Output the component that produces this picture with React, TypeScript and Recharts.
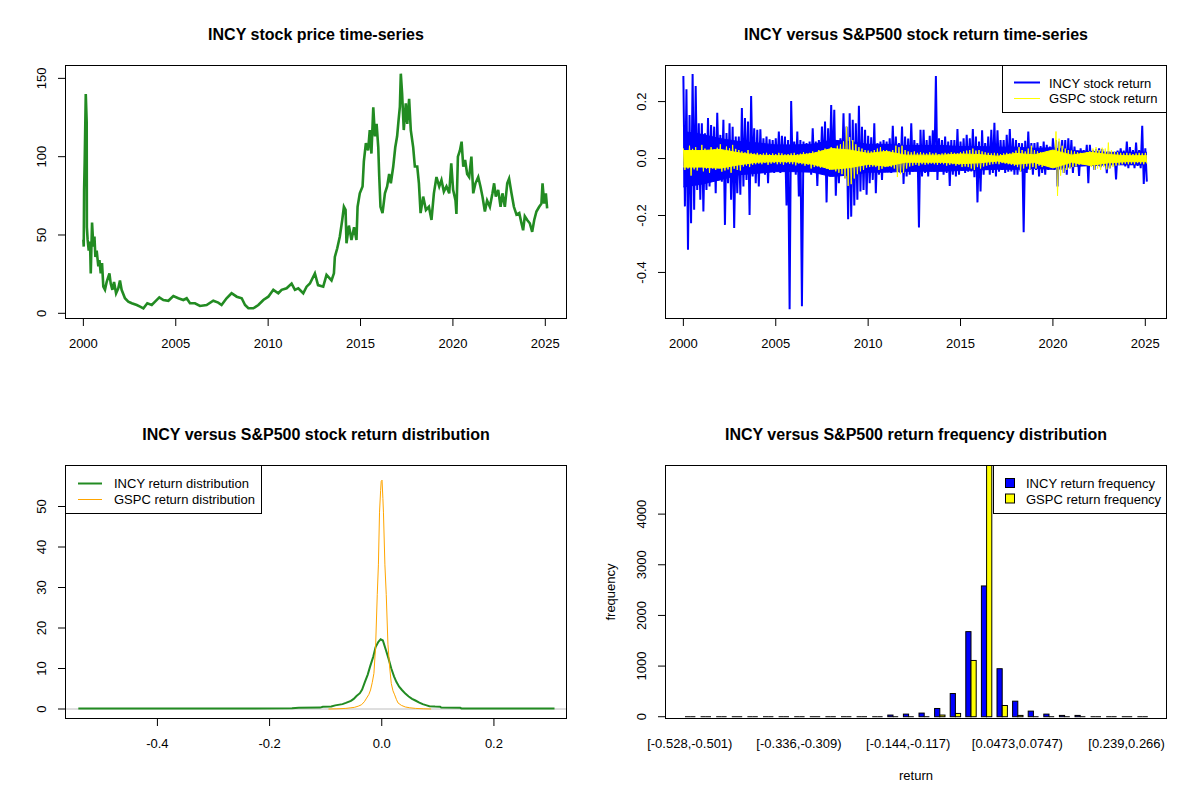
import React from 'react';
import { LineChart, AreaChart, Line, Area, XAxis, YAxis, BarChart, Bar, ReferenceLine } from 'recharts';

const FONT = '"Liberation Sans", Arial, Helvetica, sans-serif';

// ---------- Panel 1: INCY price ----------
const priceYears = [2000.00,2000.02,2000.04,2000.07,2000.13,2000.18,2000.19,2000.23,2000.29,2000.36,
2000.40,2000.47,2000.54,2000.60,2000.65,2000.72,2000.81,2000.87,2000.94,2001.01,
2001.08,2001.17,2001.26,2001.41,2001.48,2001.57,2001.66,2001.77,2001.89,2001.98,
2002.07,2002.25,2002.43,2002.62,2002.89,2003.07,2003.25,2003.46,2003.70,2003.88,
2004.11,2004.33,2004.60,2004.87,2005.14,2005.41,2005.59,2005.77,2006.04,2006.31,
2006.67,2007.03,2007.30,2007.48,2007.75,2008.02,2008.30,2008.57,2008.75,2008.93,
2009.20,2009.47,2009.74,2010.01,2010.28,2010.55,2010.73,2011.00,2011.27,2011.45,
2011.63,2011.90,2012.08,2012.26,2012.53,2012.70,2012.98,2013.16,2013.43,2013.56,
2013.61,2013.74,2013.88,2014.01,2014.10,2014.19,2014.24,2014.37,2014.51,2014.65,
2014.78,2014.84,2014.96,2015.11,2015.18,2015.29,2015.41,2015.50,2015.59,2015.69,
2015.78,2015.87,2015.96,2016.01,2016.08,2016.19,2016.32,2016.44,2016.55,2016.64,
2016.77,2016.88,2016.98,2017.06,2017.13,2017.18,2017.25,2017.34,2017.45,2017.53,
2017.63,2017.72,2017.85,2017.94,2018.07,2018.16,2018.25,2018.39,2018.54,2018.70,
2018.84,2018.97,2019.11,2019.26,2019.38,2019.51,2019.65,2019.80,2019.91,2020.01,
2020.14,2020.19,2020.27,2020.38,2020.47,2020.56,2020.66,2020.77,2020.88,2021.00,
2021.10,2021.22,2021.37,2021.49,2021.60,2021.73,2021.85,2022.00,2022.14,2022.23,
2022.32,2022.45,2022.58,2022.68,2022.81,2022.94,2023.04,2023.17,2023.30,2023.44,
2023.59,2023.71,2023.80,2023.89,2024.02,2024.16,2024.29,2024.40,2024.52,2024.67,
2024.79,2024.85,2024.94,2025.03,2025.10];
const prices = [47,42.6,78.8,95.8,140,122,55,47,40,45.8,
25.5,58,42.6,49,36,40,30,34,25.5,32,
17,15,20,25.5,19,15,20,12.8,16,21,
15,9.6,7.5,6.4,5.3,4.3,3.2,6.4,5.3,7.5,
10.2,8.5,8,11,9.6,8.5,9.6,6.4,6.4,4.7,
5.3,8,6.8,5.3,9.6,12.8,10.6,9.6,5.3,3.2,
3.2,5.3,8.5,10.6,15,12.8,15,16,19,15,
16,12.8,17,19,25.5,18,17,24.5,21,25.5,
36,41.5,49,59.6,68,66,44.7,56,46.8,55,
46.8,68,76.6,81,97,108.6,104,117,102,131.5,
113,121,106,88,68,64,76.6,81,89,83,
93.7,106,113,123.5,132,153,140.5,117,134,121,
137,117,106,93.7,93.7,83,64,74.5,66,68,
59.6,76.6,87,81,85,77.7,81,76.6,95.8,78.8,
72,63.4,100,104,109.6,93.7,98,89,87,100,
76.6,83,87,81,74.5,65,72,68,76.6,83,
74.5,78.8,68,76.6,68,83,86,76.6,68,63,
64,57.5,53,62,59.6,57.5,52,59.6,65,68,
70,83,70,76.6,67];
const yearTicks = [2000, 2005, 2010, 2015, 2020, 2025];
const priceTicks = [0, 50, 100, 150];

// ---------- Panel 2: returns (per 2-month window: upper and lower extremes) ----------
const RET_START = 2000;
const RET_STEP = 1 / 6;
const incyHigh = [.290,.243,.153,.297,.255,.124,.124,.089,.142,.118,
.112,.161,.083,.136,.090,.124,.112,.077,.077,.177,
.142,.130,.220,.106,.101,.103,.071,.077,.068,.065,
.071,.095,.080,.077,.065,.202,.060,.095,.065,.060,
.054,.060,.106,.060,.065,.112,.130,.106,.188,.171,
.054,.071,.159,.112,.159,.136,.124,.185,.112,.101,
.080,.075,.124,.054,.060,.065,.060,.071,.115,.077,
.054,.112,.077,.070,.124,.065,.054,.101,
.101,.065,.080,.099,.290,.071,.065,.077,.060,.065,
.065,.104,.060,.071,.083,.071,.104,.077,.060,.099,
.054,.077,.101,.126,.099,.065,.065,.083,.104,.071,
.065,.054,.054,.062,.095,.054,.054,.057,.044,.060,
.048,.042,.071,.065,.060,.065,.065,.071,.065,.042,
.028,.036,.030,.048,.048,.030,.033,.036,.033,.020,
.025,.020,.021,.028,.036,.028,.060,.040,.030,.056,
.030,.115,.036];
const incyLow = [-.168,-.320,-.227,-.180,-.110,-.145,-.186,-.110,-.098,-.075,
-.122,-.057,-.081,-.233,-.087,-.145,-.244,-.122,-.127,-.098,
-.075,-.198,-.063,-.087,-.098,-.051,-.057,-.087,-.045,-.051,
-.040,-.051,-.040,-.165,-.529,-.040,-.057,-.133,-.519,-.040,
-.045,-.057,-.040,-.096,-.051,-.046,-.154,-.063,-.057,-.131,
-.087,-.051,-.069,-.213,-.204,-.165,-.145,-.116,-.110,-.127,
-.087,-.075,-.122,-.057,-.075,-.040,-.046,-.051,-.040,-.046,
-.051,-.089,-.063,-.057,-.046,-.040,-.242,-.063,
-.051,-.063,-.045,-.046,-.075,-.040,-.057,-.051,-.096,-.057,
-.063,-.057,-.040,-.051,-.046,-.045,-.066,-.154,-.116,-.057,
-.040,-.057,-.051,-.063,-.046,-.040,-.051,-.046,-.045,-.057,
-.057,-.045,-.259,-.051,-.040,-.057,-.040,-.063,-.051,-.057,
-.040,-.034,-.040,-.098,-.040,-.051,-.057,-.034,-.051,-.028,
-.061,-.022,-.016,-.087,-.026,-.040,-.026,-.030,-.022,-.051,
-.034,-.016,-.073,-.019,-.019,-.028,-.034,-.022,-.034,-.026,
-.034,-.089,-.081];
const gspcHigh = [.036,.030,.045,.034,.040,.028,.048,.035,.030,.040,.032,.038,.050,.030,.042,.036,.048,.034,.030,
.025,.022,.030,.020,.018,.020,.016,.018,.020,.015,.018,.016,.020,.018,.015,.016,.018,.020,.015,.017,.022,.018,.020,.025,.022,.030,.028,
.035,.030,.040,.035,.045,.050,.060,.112,.075,.065,.050,.040,
.035,.030,.028,.025,.030,.035,.040,.030,.030,.025,.030,.045,.040,.045,.030,.025,.022,.025,.020,.022,
.020,.018,.022,.018,.020,.016,.018,.020,.018,.022,.020,.018,.022,.025,.028,.030,
.035,.028,.030,.025,.022,.020,.018,.020,.018,.016,.018,.020,.018,.022,.028,.040,.030,.025,.035,.045,.030,.025,.022,.020,.025,.020,.028,
.095,.070,.045,.035,.030,.028,.025,.022,.020,.018,.022,.025,.035,.040,.030,.038,.035,.056,.030,.025,.022,.020,.018,.020,.018,.016,.018,.020,.018,.020];
const gspcLow = [-.040,-.035,-.060,-.038,-.042,-.030,-.045,-.036,-.050,-.035,-.040,-.030,-.046,-.042,-.038,-.050,-.036,-.040,-.042,
-.028,-.025,-.030,-.022,-.020,-.018,-.020,-.016,-.022,-.018,-.016,-.020,-.018,-.022,-.016,-.018,-.020,-.024,-.018,-.020,-.025,-.022,-.035,-.030,-.028,-.032,-.030,
-.035,-.040,-.035,-.045,-.050,-.055,-.070,-.096,-.090,-.070,-.055,-.045,
-.040,-.032,-.030,-.028,-.030,-.040,-.036,-.030,-.028,-.030,-.035,-.065,-.055,-.050,-.035,-.028,-.025,-.022,-.025,-.020,
-.022,-.020,-.018,-.020,-.022,-.018,-.020,-.025,-.022,-.020,-.025,-.022,-.030,-.028,-.030,-.035,
-.040,-.030,-.035,-.028,-.025,-.022,-.020,-.018,-.020,-.016,-.018,-.020,-.022,-.025,-.030,-.045,-.035,-.028,-.040,-.030,-.035,-.025,-.030,-.022,-.025,-.028,-.030,
-.131,-.060,-.050,-.040,-.035,-.030,-.028,-.022,-.020,-.018,-.022,-.030,-.040,-.035,-.040,-.030,-.038,-.035,-.030,-.025,-.022,-.020,-.018,-.020,-.018,-.020,-.016,-.018,-.020,-.018];
// edges of the solid (dense) core band of daily returns, by year
const bandYears = [2000,2001,2002,2003,2004,2005,2006,2007,2008,2009,2010,2011,2012,2013,2014,2015,2016,2017,2018,2019,2020,2021,2022,2023,2024,2025.08];
const incyBandHi = [0.095,0.085,0.07,0.06,0.055,0.048,0.048,0.05,0.065,0.06,0.05,0.05,0.046,0.046,0.046,0.042,0.042,0.04,0.04,0.036,0.038,0.028,0.025,0.022,0.022,0.022];
const incyBandLo = [-0.10,-0.09,-0.075,-0.057,-0.052,-0.046,-0.046,-0.048,-0.063,-0.058,-0.048,-0.048,-0.045,-0.045,-0.045,-0.042,-0.04,-0.038,-0.038,-0.035,-0.038,-0.028,-0.025,-0.022,-0.022,-0.022];
const gspcBandHi = [0.028,0.028,0.032,0.02,0.012,0.01,0.01,0.018,0.035,0.03,0.018,0.025,0.012,0.012,0.012,0.016,0.014,0.008,0.018,0.013,0.03,0.012,0.022,0.014,0.01,0.01];
const gspcBandLo = [-0.03,-0.03,-0.034,-0.022,-0.013,-0.011,-0.011,-0.02,-0.038,-0.032,-0.02,-0.027,-0.013,-0.013,-0.013,-0.018,-0.015,-0.009,-0.02,-0.014,-0.033,-0.013,-0.024,-0.015,-0.011,-0.011];
const retTicks = [-0.4, -0.2, 0, 0.2];

// ---------- Panel 3: densities ----------
const incyDensX = [-0.541,-0.40,-0.25,-0.16,-0.148,-0.11,-0.105,-0.09,-0.083,-0.07,-0.064,-0.055,-0.05,-0.045,-0.039,-0.035,-0.03,-0.025,-0.021,-0.015,-0.011,-0.006,-0.002,0.002,0.0075,0.012,0.017,0.022,0.026,0.031,0.036,0.042,0.048,0.054,0.06,0.067,0.073,0.08,0.085,0.095,0.104,0.106,0.14,0.142,0.2,0.308];
const incyDensY = [0.15,0.15,0.15,0.16,0.3,0.35,0.55,0.6,0.9,1.2,1.5,2.0,2.5,3.2,3.9,4.8,6.7,8.5,10.4,13.0,15.3,16.6,17.2,16.9,14.5,12.5,10.0,8.0,6.7,5.5,4.7,3.8,3.1,2.5,2.1,1.6,1.2,0.9,0.7,0.6,0.55,0.35,0.3,0.15,0.15,0.15];
const gspcDensX = [-0.095,-0.08,-0.064,-0.055,-0.049,-0.042,-0.036,-0.031,-0.027,-0.023,-0.02,-0.017,-0.014,-0.011,-0.008,-0.006,-0.004,-0.002,-0.001,0.0005,0.002,0.003,0.0056,0.008,0.011,0.014,0.017,0.02,0.023,0.026,0.029,0.035,0.042,0.05,0.06,0.075,0.088];
const gspcDensY = [0.0,0.05,0.15,0.3,0.4,0.7,1.06,1.8,2.7,3.6,4.7,6.5,8.8,15.3,28.3,35.6,48.6,54,56.2,56.5,52,48.6,35.6,28.3,16,10.4,6.3,4.5,3.5,2.4,1.5,0.9,0.5,0.3,0.15,0.05,0.0];
const densXTicks = [-0.4, -0.2, 0, 0.2];
const densYTicks = [0, 10, 20, 30, 40, 50];

// ---------- Panel 4: histogram ----------
const binLabels = ['[-0.528,-0.501)','[-0.501,-0.473)','[-0.473,-0.446)','[-0.446,-0.418)','[-0.418,-0.391)','[-0.391,-0.364)','[-0.364,-0.336)','[-0.336,-0.309)','[-0.309,-0.281)','[-0.281,-0.254)','[-0.254,-0.227)','[-0.227,-0.199)','[-0.199,-0.172)','[-0.172,-0.144)','[-0.144,-0.117)','[-0.117,-0.0897)','[-0.0897,-0.0623)','[-0.0623,-0.0349)','[-0.0349,-0.0075)','[-0.0075,0.0199)','[0.0199,0.0473)','[0.0473,0.0747)','[0.0747,0.102)','[0.102,0.129)','[0.129,0.157)','[0.157,0.184)','[0.184,0.212)','[0.212,0.239)','[0.239,0.266)','[0.266,0.294]'];
const incyFreq = [2,0,0,0,0,0,0,1,0,1,4,2,3,33,52,72,163,458,1680,2582,948,307,111,52,26,26,3,2,3,2];
const gspcFreq = [0,0,0,0,0,0,0,0,0,0,0,0,0,0,2,8,33,65,1111,5050,222,26,5,0,0,0,0,0,0,0];
const freqTicks = [0, 1000, 2000, 3000, 4000];

// ---------- tables built from the arrays ----------
const priceData = priceYears.map((t, i) => ({ t, price: prices[i] }));
const retData: any[] = [];
incyHigh.forEach((h, k) => {
  const t = RET_START + k * RET_STEP;
  retData.push({ t, incy: h, gspc: gspcHigh[k] });
  retData.push({ t: t + RET_STEP / 2, incy: incyLow[k], gspc: gspcLow[k] });
});
const incyBandData = bandYears.map((t, i) => ({ t, band: [incyBandLo[i], incyBandHi[i]] }));
const gspcBandData = bandYears.map((t, i) => ({ t, band: [gspcBandLo[i], gspcBandHi[i]] }));
const densData = [
  ...incyDensX.map((x, i) => ({ x, incy: incyDensY[i] })),
  ...gspcDensX.map((x, i) => ({ x, gspc: gspcDensY[i] })),
].sort((a, b) => a.x - b.x);
const histData = binLabels.map((label, i) => ({ label, incy: incyFreq[i], gspc: gspcFreq[i] }));

const MARGIN = { top: 66, right: 34, bottom: 52, left: 36 };
const BARE_MARGIN = { top: 66, right: 34, bottom: 82, left: 66 };
const YEAR_DOMAIN: [number, number] = [1999.06, 2026.12];
const RET_DOMAIN: [number, number] = [-0.560, 0.325];

const xTick = (fmt: (v: any) => string) => (props: any) => (
  <text x={props.x} y={348} textAnchor="middle" fontSize={13} fontFamily={FONT} fill="#000">
    {fmt(props.payload.value)}
  </text>
);
const yTick = (fmt: (v: any) => string) => (props: any) => (
  <text x={42} y={props.y} transform={`rotate(-90, 42, ${props.y})`} textAnchor="middle"
    dominantBaseline="central" fontSize={13} fontFamily={FONT} fill="#000">
    {fmt(props.payload.value)}
  </text>
);
const fmtInt = (v: any) => String(v);
const fmt1 = (v: any) => Number(v).toFixed(1);

const BarShape = (props: any) => {
  const { x, y, width, height, fill } = props;
  if (x == null || y == null) return null;
  const h = Math.abs(height || 0);
  const top = height < 0 ? y + height : y;
  if (h < 0.6) {
    return <line x1={x} x2={x + width} y1={top + h} y2={top + h} stroke="#000" strokeWidth={1} />;
  }
  return <rect x={x} y={top} width={width} height={h} fill={fill} stroke="#000" strokeWidth={1} />;
};

const tickLineStyle = { stroke: '#000', strokeWidth: 1 };

const Panel = ({ left, top, children }: any) => (
  <div style={{ position: 'absolute', left, top, width: 600, height: 400 }}>{children}</div>
);
const Layer = ({ children }: any) => (
  <div style={{ position: 'absolute', left: 0, top: 0, width: 600, height: 400 }}>{children}</div>
);

const bareAxes = [
  <XAxis key="x" type="number" dataKey="t" domain={YEAR_DOMAIN} allowDataOverflow hide />,
  <YAxis key="y" type="number" domain={RET_DOMAIN} allowDataOverflow hide />,
];

export default function App() {
  const T = { fontFamily: FONT, fill: '#000' } as any;
  return (
    <div style={{ position: 'absolute', left: 0, top: 0, width: 1200, height: 800, background: '#fff', overflow: 'hidden' }}>
      <Panel left={0} top={0}>
        <LineChart width={600} height={400} data={priceData} margin={MARGIN}>
          <XAxis type="number" dataKey="t" domain={YEAR_DOMAIN} allowDataOverflow ticks={yearTicks} interval={0}
            height={30} tickSize={8} axisLine={false} tickLine={tickLineStyle} tick={xTick(fmtInt)} />
          <YAxis type="number" domain={[-3.0, 157.9]} allowDataOverflow ticks={priceTicks} interval={0}
            width={30} tickSize={8} axisLine={false} tickLine={tickLineStyle} tick={yTick(fmtInt)} />
          <Line type="linear" dataKey="price" stroke="#228B22" strokeWidth={2.6} dot={false} isAnimationActive={false} />
        </LineChart>
      </Panel>

      <Panel left={600} top={0}>
        <Layer>
          <AreaChart width={600} height={400} data={incyBandData} margin={BARE_MARGIN}>
            {bareAxes}
            <Area type="linear" dataKey="band" stroke="#0000FF" strokeWidth={1} fill="#0000FF" fillOpacity={1}
              dot={false} activeDot={false} isAnimationActive={false} />
          </AreaChart>
        </Layer>
        <Layer>
          <LineChart width={600} height={400} data={retData} margin={BARE_MARGIN}>
            {bareAxes}
            <Line type="linear" dataKey="incy" stroke="#0000FF" strokeWidth={2} dot={false} isAnimationActive={false} />
          </LineChart>
        </Layer>
        <Layer>
          <AreaChart width={600} height={400} data={gspcBandData} margin={BARE_MARGIN}>
            {bareAxes}
            <Area type="linear" dataKey="band" stroke="#FFFF00" strokeWidth={1} fill="#FFFF00" fillOpacity={1}
              dot={false} activeDot={false} isAnimationActive={false} />
          </AreaChart>
        </Layer>
        <Layer>
          <LineChart width={600} height={400} data={retData} margin={MARGIN}>
            <XAxis type="number" dataKey="t" domain={YEAR_DOMAIN} allowDataOverflow ticks={yearTicks} interval={0}
              height={30} tickSize={8} axisLine={false} tickLine={tickLineStyle} tick={xTick(fmtInt)} />
            <YAxis type="number" domain={RET_DOMAIN} allowDataOverflow ticks={retTicks} interval={0}
              width={30} tickSize={8} axisLine={false} tickLine={tickLineStyle} tick={yTick(fmt1)} />
            <Line type="linear" dataKey="gspc" stroke="#FFFF00" strokeWidth={1} dot={false} isAnimationActive={false} />
          </LineChart>
        </Layer>
      </Panel>

      <Panel left={0} top={400}>
        <LineChart width={600} height={400} data={densData} margin={MARGIN}>
          <XAxis type="number" dataKey="x" domain={[-0.563, 0.3285]} allowDataOverflow ticks={densXTicks} interval={0}
            height={30} tickSize={8} axisLine={false} tickLine={tickLineStyle} tick={xTick(fmt1)} />
          <YAxis type="number" domain={[-2.22, 60.0]} allowDataOverflow ticks={densYTicks} interval={0}
            width={30} tickSize={8} axisLine={false} tickLine={tickLineStyle} tick={yTick(fmtInt)} />
          <ReferenceLine y={0} stroke="#BEBEBE" strokeWidth={1} />
          <Line type="linear" dataKey="incy" stroke="#228B22" strokeWidth={2} dot={false} connectNulls isAnimationActive={false} />
          <Line type="linear" dataKey="gspc" stroke="#FFA500" strokeWidth={1} dot={false} connectNulls isAnimationActive={false} />
        </LineChart>
      </Panel>

      <Panel left={600} top={400}>
        <BarChart width={600} height={400} data={histData} margin={MARGIN} barGap={0} barSize={5.2}>
          <XAxis type="category" dataKey="label" interval={6} padding={{ left: 16, right: 16 }}
            height={30} axisLine={false} tickLine={false} tick={xTick((v) => String(v))} />
          <YAxis type="number" domain={[-25, 4950]} allowDataOverflow ticks={freqTicks} interval={0}
            width={30} tickSize={8} axisLine={false} tickLine={tickLineStyle} tick={yTick(fmtInt)} />
          <Bar dataKey="incy" fill="#0000FF" shape={BarShape} isAnimationActive={false} />
          <Bar dataKey="gspc" fill="#FFFF00" shape={BarShape} isAnimationActive={false} />
        </BarChart>
      </Panel>

      <svg width={1200} height={800} style={{ position: 'absolute', left: 0, top: 0, pointerEvents: 'none' }}>
        <rect x={65.5} y={65.5} width={501} height={253} fill="none" stroke="#000" strokeWidth={1} />
        <rect x={665.5} y={65.5} width={501} height={253} fill="none" stroke="#000" strokeWidth={1} />
        <rect x={65.5} y={465.5} width={501} height={253} fill="none" stroke="#000" strokeWidth={1} />
        <rect x={665.5} y={465.5} width={501} height={253} fill="none" stroke="#000" strokeWidth={1} />

        <text x={316} y={40} textAnchor="middle" fontSize={16} fontWeight="bold" {...T}>INCY stock price time-series</text>
        <text x={916} y={40} textAnchor="middle" fontSize={16} fontWeight="bold" {...T}>INCY versus S&amp;P500 stock return time-series</text>
        <text x={316} y={440} textAnchor="middle" fontSize={16} fontWeight="bold" {...T}>INCY versus S&amp;P500 stock return distribution</text>
        <text x={916} y={440} textAnchor="middle" fontSize={16} fontWeight="bold" {...T}>INCY versus S&amp;P500 return frequency distribution</text>

        <text x={916} y={780} textAnchor="middle" fontSize={13} {...T}>return</text>
        <text x={610} y={592} transform="rotate(-90, 610, 592)" textAnchor="middle" dominantBaseline="central" fontSize={13} {...T}>frequency</text>

        <rect x={1002.5} y={65.5} width={164} height={47} fill="#fff" stroke="#000" strokeWidth={1} />
        <line x1={1014} x2={1040} y1={82.5} y2={82.5} stroke="#0000FF" strokeWidth={2} />
        <text x={1049} y={87.5} fontSize={13} {...T}>INCY stock return</text>
        <line x1={1014} x2={1040} y1={98.5} y2={98.5} stroke="#FFFF00" strokeWidth={1} />
        <text x={1049} y={103} fontSize={13} {...T}>GSPC stock return</text>

        <rect x={65.5} y={465.5} width={196} height={48} fill="#fff" stroke="#000" strokeWidth={1} />
        <line x1={78} x2={102} y1={483.5} y2={483.5} stroke="#228B22" strokeWidth={2} />
        <text x={114} y={488} fontSize={13} {...T}>INCY return distribution</text>
        <line x1={78} x2={102} y1={499.5} y2={499.5} stroke="#FFA500" strokeWidth={1} />
        <text x={114} y={504} fontSize={13} {...T}>GSPC return distribution</text>

        <rect x={993.5} y={465.5} width={173} height={48} fill="#fff" stroke="#000" strokeWidth={1} />
        <rect x={1005.5} y={478.5} width={9} height={9} fill="#0000FF" stroke="#000" strokeWidth={1} />
        <text x={1026} y={488} fontSize={13} {...T}>INCY return frequency</text>
        <rect x={1005.5} y={494} width={9} height={9} fill="#FFFF00" stroke="#000" strokeWidth={1} />
        <text x={1026} y={503.5} fontSize={13} {...T}>GSPC return frequency</text>
      </svg>
    </div>
  );
}
